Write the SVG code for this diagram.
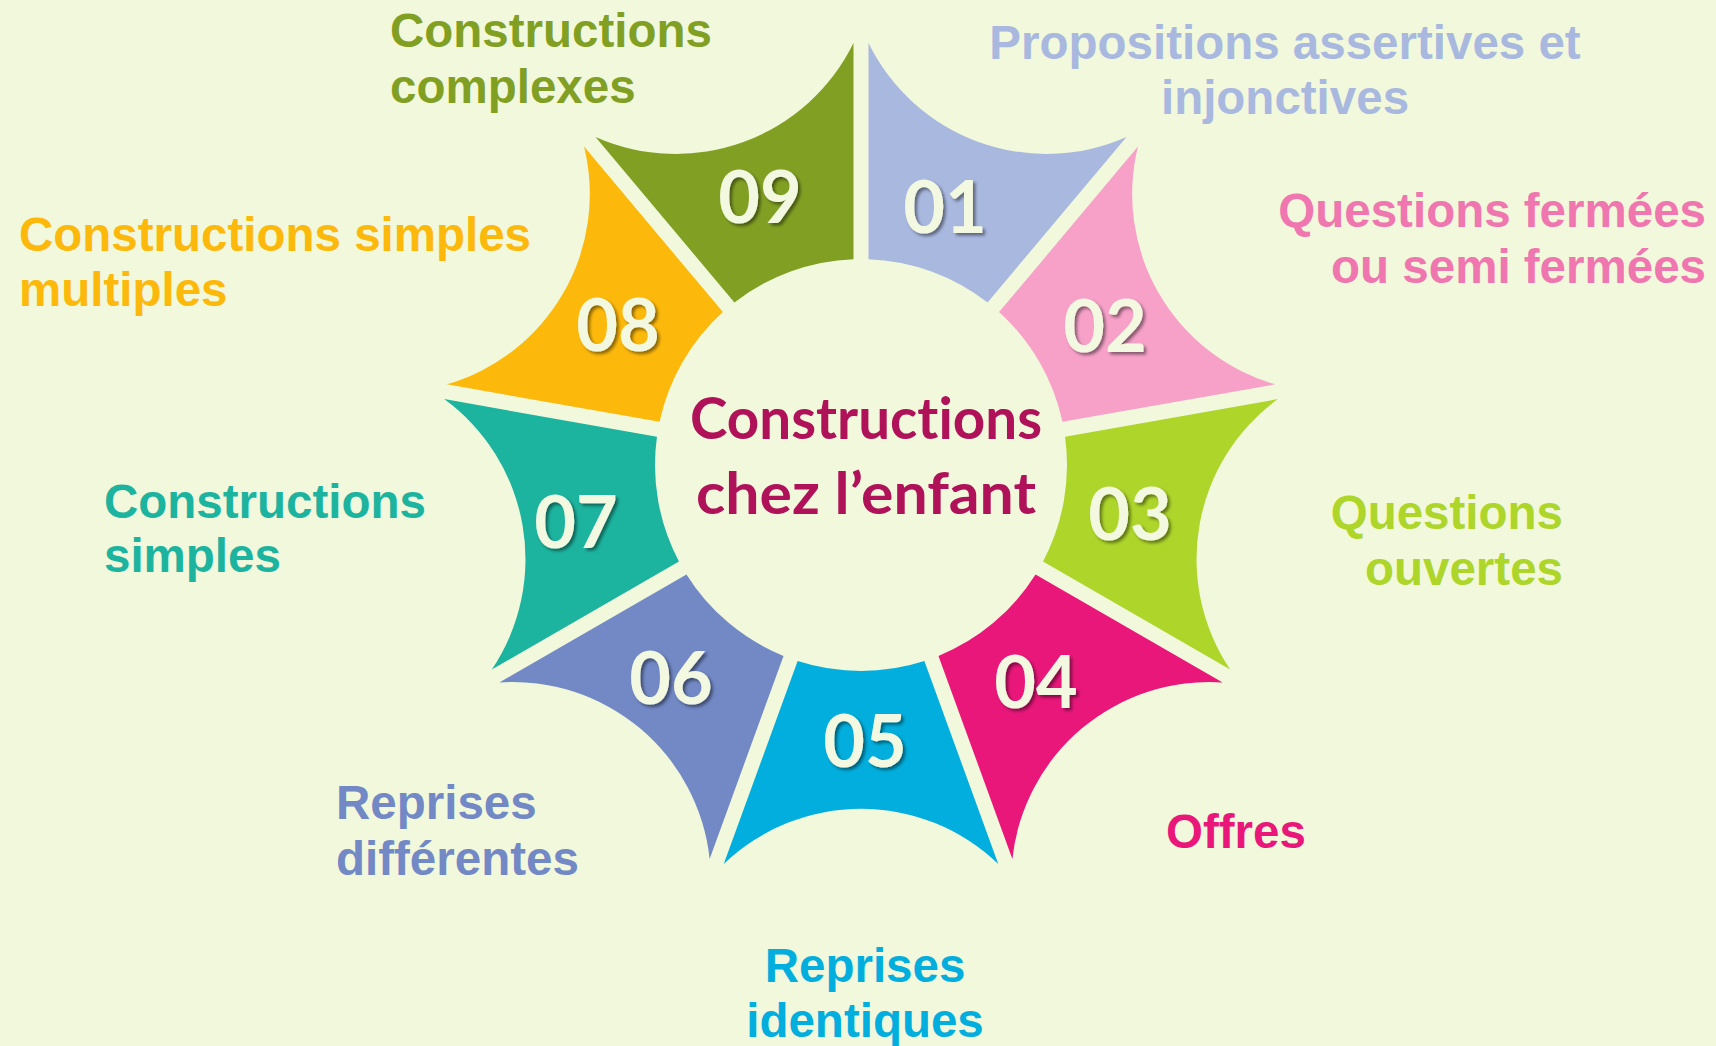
<svg xmlns="http://www.w3.org/2000/svg" width="1716" height="1046" viewBox="0 0 1716 1046">
<defs>
<style>
.lbl{font-family:"Liberation Sans",Arial,sans-serif;font-weight:bold;font-size:47.5px}
.num{font-family:Lato,"Liberation Sans",sans-serif;font-weight:bold;font-size:72px;fill:#F3F8E0;text-anchor:middle;filter:url(#sh)}
.ctr{font-family:Lato,"Open Sans",sans-serif;font-weight:bold;font-size:58px;fill:#B01259;font-variant-ligatures:none}
</style>
<filter id="sh" x="-20%" y="-20%" width="140%" height="140%">
<feDropShadow dx="2.5" dy="2.5" stdDeviation="1.5" flood-color="#000" flood-opacity="0.45"/>
</filter>
<path id="seg" d="M63.36,196.02 A206,206 0 0 1 -63.36,196.02 L-137.26,399.06 A198,198 0 0 1 137.26,399.06 Z"/>
</defs>
<rect width="1716" height="1046" fill="#F1F8DC"/>

<g id="node-01">
<use href="#seg" fill="#A9B8DF" transform="translate(861,465) rotate(-160)"/>
<text class="num" x="945" y="233">01</text>
<text class="lbl" fill="#A9B8DF" text-anchor="middle"><tspan x="1285" y="59">Propositions assertives et</tspan><tspan x="1285" y="114">injonctives</tspan></text>
</g>

<g id="node-02">
<use href="#seg" fill="#F7A1C9" transform="translate(861,465) rotate(-120)"/>
<text class="num" x="1105" y="352">02</text>
<text class="lbl" fill="#F076AF" text-anchor="end"><tspan x="1706" y="227">Questions fermées</tspan><tspan x="1706" y="283">ou semi fermées</tspan></text>
</g>

<g id="node-03">
<use href="#seg" fill="#ADD52A" transform="translate(861,465) rotate(-80)"/>
<text class="num" x="1130" y="540">03</text>
<text class="lbl" fill="#ADD52A" text-anchor="end"><tspan x="1563" y="529">Questions</tspan><tspan x="1563" y="585">ouvertes</tspan></text>
</g>

<g id="node-04">
<use href="#seg" fill="#E9177A" transform="translate(861,465) rotate(-40)"/>
<text class="num" x="1036" y="708">04</text>
<text class="lbl" fill="#E9177A" x="1166" y="848">Offres</text>
</g>

<g id="node-05">
<use href="#seg" fill="#02AEDD" transform="translate(861,465)"/>
<text class="num" x="865" y="767">05</text>
<text class="lbl" fill="#02AEDD" text-anchor="middle"><tspan x="865" y="982">Reprises</tspan><tspan x="865" y="1037">identiques</tspan></text>
</g>

<g id="node-06">
<use href="#seg" fill="#7289C6" transform="translate(861,465) rotate(40)"/>
<text class="num" x="671" y="704">06</text>
<text class="lbl" fill="#7289C6"><tspan x="336" y="819">Reprises</tspan><tspan x="336" y="875">différentes</tspan></text>
</g>

<g id="node-07">
<use href="#seg" fill="#1CB49F" transform="translate(861,465) rotate(80)"/>
<text class="num" x="576" y="548">07</text>
<text class="lbl" fill="#1CB49F"><tspan x="104" y="518">Constructions</tspan><tspan x="104" y="572">simples</tspan></text>
</g>

<g id="node-08">
<use href="#seg" fill="#FDB90B" transform="translate(861,465) rotate(120)"/>
<text class="num" x="618" y="351">08</text>
<text class="lbl" fill="#FDB90B"><tspan x="19" y="251">Constructions simples</tspan><tspan x="19" y="306">multiples</tspan></text>
</g>

<g id="node-09">
<use href="#seg" fill="#81A023" transform="translate(861,465) rotate(160)"/>
<text class="num" x="760" y="223">09</text>
<text class="lbl" fill="#81A023"><tspan x="390" y="47">Constructions</tspan><tspan x="390" y="103">complexes</tspan></text>
</g>

<g id="center">
<text class="ctr" x="690" y="439" textLength="352" lengthAdjust="spacingAndGlyphs">Constructions</text>
<text class="ctr" x="696" y="514" textLength="340" lengthAdjust="spacingAndGlyphs">chez l’enfant</text>
</g>

<g id="connectors"/>
</svg>
